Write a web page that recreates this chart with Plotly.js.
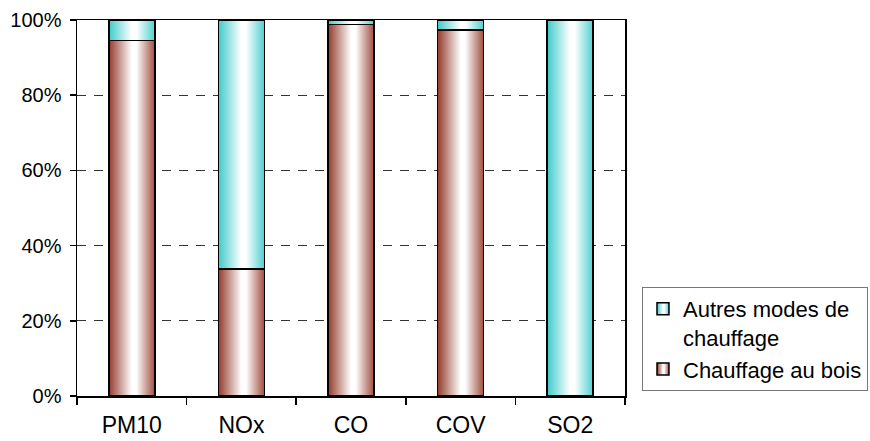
<!DOCTYPE html>
<html>
<head>
<meta charset="utf-8">
<script src="https://cdn.plot.ly/plotly-3.0.1.min.js"></script>
<style>html,body{margin:0;padding:0;background:#fff;}</style>
</head>
<body>
<div id="chart" style="width:870px;height:441px;"></div>
<script>
const categories = ['PM10', 'NOx', 'CO', 'COV', 'SO2'];
const woodValues = [94.5, 33.8, 98.8, 97.3, 0];
const otherValues = [5.5, 66.2, 1.2, 2.7, 100];
const woodName = 'Chauffage au bois';
const otherName = 'Autres modes de<br>chauffage';
const yTickVals = [0, 20, 40, 60, 80, 100];
const yTickLabels = ['0%', '20%', '40%', '60%', '80%', '100%'];

const font = "'Liberation Sans', Arial, sans-serif";

const traces = [
  {type: 'bar', x: categories, y: woodValues, name: woodName,
   marker: {color: '#c98a7e', line: {color: '#000', width: 1.5}}, hoverinfo: 'skip'},
  {type: 'bar', x: categories, y: otherValues, name: otherName,
   marker: {color: '#9ee2e2', line: {color: '#000', width: 1.5}}, hoverinfo: 'skip'}
];

const layout = {
  width: 870, height: 441,
  margin: {l: 77, r: 245, t: 20, b: 45, autoexpand: false},
  paper_bgcolor: '#fff', plot_bgcolor: '#fff',
  barmode: 'stack', bargap: 0.58,
  font: {family: font, size: 19, color: '#000'},
  showlegend: true,
  legend: {x: 1.031, xanchor: 'left', y: 0.29, yanchor: 'top',
           traceorder: 'reversed', valign: 'top',
           bordercolor: '#777', borderwidth: 1, bgcolor: '#fff',
           font: {family: font, size: 22, color: '#000'},
           itemwidth: 30, tracegroupgap: 0},
  xaxis: {type: 'category', showline: true, mirror: true, linecolor: '#000', linewidth: 1.5,
          ticks: 'outside', tickson: 'boundaries', ticklen: 7, tickcolor: '#000', tickwidth: 1.5,
          ticklabelstandoff: 8,
          showgrid: false, tickfont: {family: font, size: 23, color: '#000'}, fixedrange: true},
  yaxis: {range: [0, 100], tickmode: 'array', tickvals: yTickVals, ticktext: yTickLabels,
          showline: true, mirror: true,
          linecolor: '#000', linewidth: 1.5, ticks: 'outside', ticklen: 6, tickcolor: '#000', tickwidth: 1.5,
          ticklabelstandoff: 4,
          showgrid: true, gridcolor: '#333', gridwidth: 1, griddash: '9px,8px', zeroline: false,
          tickfont: {family: font, size: 20, color: '#000'}, fixedrange: true}
};

function addGradients(gd) {
  const svg = gd.querySelector('svg.main-svg');
  const ns = 'http://www.w3.org/2000/svg';
  if (!document.getElementById('gradWood')) {
    const defs = document.createElementNS(ns, 'defs');
    const mk = (id, edgeL, edgeR) => {
      const g = document.createElementNS(ns, 'linearGradient');
      g.setAttribute('id', id);
      g.setAttribute('x1', '0'); g.setAttribute('y1', '0');
      g.setAttribute('x2', '1'); g.setAttribute('y2', '0');
      [[0, edgeL], [0.5, '#ffffff'], [0.6, '#ffffff'], [1, edgeR]].forEach(([o, c]) => {
        const s = document.createElementNS(ns, 'stop');
        s.setAttribute('offset', o); s.setAttribute('stop-color', c);
        g.appendChild(s);
      });
      defs.appendChild(g);
    };
    mk('gradWood', '#933a2a', '#a04f40');
    mk('gradOther', '#40caca', '#50cfcf');
    svg.appendChild(defs);
  }
  const groups = gd.querySelectorAll('.barlayer .trace');
  groups.forEach((grp, i) => {
    const id = i === 0 ? 'gradWood' : 'gradOther';
    grp.querySelectorAll('path').forEach(p => { p.style.fill = 'url(#' + id + ')'; });
  });
  gd.querySelectorAll('.legend .traces').forEach(el => {
    const txt = el.textContent || '';
    const id = txt.indexOf('bois') >= 0 ? 'gradWood' : 'gradOther';
    el.querySelectorAll('.legendpoints path').forEach(p => { p.style.fill = 'url(#' + id + ')'; });
  });
}

Plotly.newPlot('chart', traces, layout, {staticPlot: true, displayModeBar: false}).then(addGradients);
</script>
</body>
</html>
